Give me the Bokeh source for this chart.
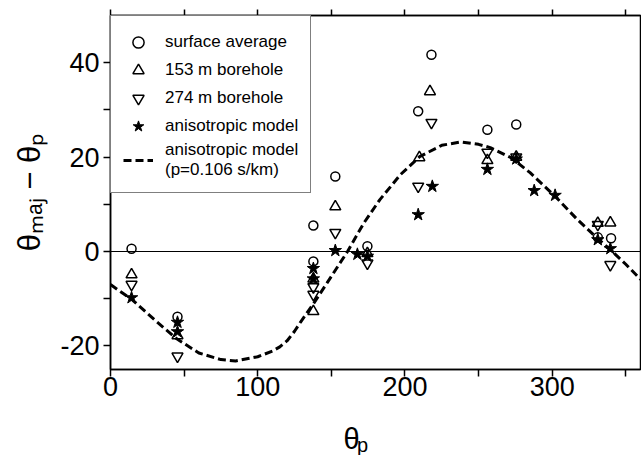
import numpy as np
from bokeh.plotting import figure
from bokeh.models import Range1d, FixedTicker, LinearAxis, Span, Label, Legend, LegendItem
from bokeh.embed import file_html
from bokeh.resources import INLINE

# ---- data ----
theta_surface = [14.3, 45.5, 137.8, 137.8, 152.7, 174.5, 209.0, 218.0, 256.0, 275.6, 331.0, 340.0]
dev_surface   = [0.6, -13.8, 5.5, -2.1, 15.9, 1.1, 29.7, 41.7, 25.8, 26.9, 3.0, 2.8]

theta_153 = [14.3, 45.5, 137.8, 137.8, 152.7, 174.5, 209.8, 217.0, 256.0, 275.6, 331.0, 339.5]
dev_153   = [-4.9, -17.8, -5.8, -12.7, 9.5, -0.4, 19.9, 33.9, 19.3, 20.0, 6.0, 6.1]

theta_274 = [14.3, 45.5, 137.8, 137.8, 152.7, 174.5, 209.0, 218.0, 256.0, 275.6, 331.0, 339.5]
dev_274   = [-7.0, -22.2, -7.5, -9.1, 4.0, -2.5, 13.8, 27.3, 21.0, 20.0, 5.7, -2.8]

theta_model = [14.3, 45.5, 45.5, 137.8, 137.8, 152.7, 167.7, 174.5, 209.0, 218.6, 256.0, 275.6, 287.8, 302.0, 331.0, 339.5]
dev_model   = [-9.8, -15.0, -17.0, -3.6, -5.8, 0.2, -0.6, -1.0, 7.8, 13.8, 17.4, 19.6, 12.9, 11.9, 2.5, 0.6]

curve_theta = [0, 15, 30, 45, 60, 75, 85, 100, 110, 115, 120, 125, 129, 138, 147, 161, 172, 183, 197, 210,
               225, 238, 250, 258, 272, 285, 302, 317, 330, 339.5, 350, 360]
curve_dev   = [-7.0, -10.3, -14.5, -18.5, -21.5, -22.9, -23.2, -22.3, -21.1, -20.2, -18.9, -16.9, -15.0,
               -11.0, -6.7, 0.0, 6.0, 11.0, 16.3, 20.1, 22.5, 23.2, 22.7, 22.0, 19.9, 16.7, 11.7, 6.8,
               3.0, 0.4, -2.7, -5.9]

x_ticks = [0, 100, 200, 300]
x_minor = [50, 150, 250, 350]
y_ticks = [-20, 0, 20, 40]
y_minor = [-10, 10, 30]
y_tick_labels = {-20: "-20", 0: "0", 20: "20", 40: "40"}
top_ticks = [0, 50, 100, 150, 200, 250, 300, 350]

FONT = "Liberation Sans"

p = figure(width=641, height=455, output_backend="svg", toolbar_location=None,
           x_range=Range1d(0, 360), y_range=Range1d(-25, 50),
           min_border_left=110, min_border_right=1, min_border_top=15, min_border_bottom=86)
p.grid.visible = False
p.outline_line_color = "black"
p.outline_line_width = 1.5
p.background_fill_color = "white"

for ax in (p.xaxis[0], p.yaxis[0]):
    ax.axis_line_width = 1.5
    ax.major_tick_line_width = 1.5
    ax.minor_tick_line_width = 1.5
    ax.major_tick_in = 0
    ax.minor_tick_in = 0
    ax.major_tick_out = 7
    ax.minor_tick_out = 7
    ax.major_label_text_font = FONT
    ax.major_label_text_font_size = "27px"
    ax.major_label_text_color = "black"

p.xaxis[0].ticker = FixedTicker(ticks=x_ticks, minor_ticks=x_minor)
p.yaxis[0].ticker = FixedTicker(ticks=y_ticks, minor_ticks=y_minor)
p.yaxis[0].major_label_overrides = y_tick_labels
p.xaxis[0].major_label_standoff = 0
p.yaxis[0].major_label_standoff = 4

# y-axis title with subscripts
p.yaxis[0].axis_label = "θₘₐⱼ − θₚ"
p.yaxis[0].axis_label_text_font = FONT
p.yaxis[0].axis_label_text_font_size = "31px"
p.yaxis[0].axis_label_text_font_style = "normal"
p.yaxis[0].axis_label_text_color = "black"
p.yaxis[0].axis_label_standoff = 10

# top frame ticks only (drawn as minor ticks so no label texts are produced)
top = LinearAxis(ticker=FixedTicker(ticks=[], minor_ticks=top_ticks),
                 major_tick_in=0, major_tick_out=0, minor_tick_in=0, minor_tick_out=6,
                 major_label_standoff=0, axis_line_width=1.5, minor_tick_line_width=1.5)
p.add_layout(top, "above")

p.add_layout(Span(location=0, dimension="width", line_color="black", line_width=1.2))

curve = p.line(curve_theta, curve_dev, line_dash="8 4", line_width=3, line_color="black")
r_surf = p.scatter(theta_surface, dev_surface, marker="circle", size=9, fill_color=None,
                   line_color="black", line_width=1.5)
r_153 = p.scatter(theta_153, dev_153, marker="triangle", size=11, fill_color=None,
                  line_color="black", line_width=1.5)
r_274 = p.scatter(theta_274, dev_274, marker="inverted_triangle", size=11, fill_color=None,
                  line_color="black", line_width=1.5)
r_mod = p.scatter(theta_model, dev_model, marker="star", size=13, fill_color="black",
                  line_color="black", line_width=1)

legend = Legend(items=[
    LegendItem(label="surface average", renderers=[r_surf]),
    LegendItem(label="153 m borehole", renderers=[r_153]),
    LegendItem(label="274 m borehole", renderers=[r_274]),
    LegendItem(label="anisotropic model", renderers=[r_mod]),
    LegendItem(label="anisotropic model\n(p=0.106 s/km)", renderers=[curve]),
], location="top_left", margin=0, padding=12, spacing=0,
    glyph_width=30, glyph_height=28, label_height=28, label_standoff=12,
    label_text_font=FONT, label_text_font_size="17px", label_text_color="black",
    border_line_color="black", border_line_width=1.2, background_fill_alpha=1.0)
p.add_layout(legend)

# x-axis title: theta with subscript p, in the lower side panel (data units)
p.add_layout(Label(x=158.3, y=-39.8, text="θ", text_font=FONT, text_font_size="29px",
                   text_color="black", text_baseline="alphabetic", text_align="left"), "below")
p.add_layout(Label(x=167.5, y=-41.0, text="p", text_font=FONT, text_font_size="20px",
                   text_color="black", text_baseline="alphabetic", text_align="left"), "below")

open("out.html", "w").write(file_html(p, INLINE))
